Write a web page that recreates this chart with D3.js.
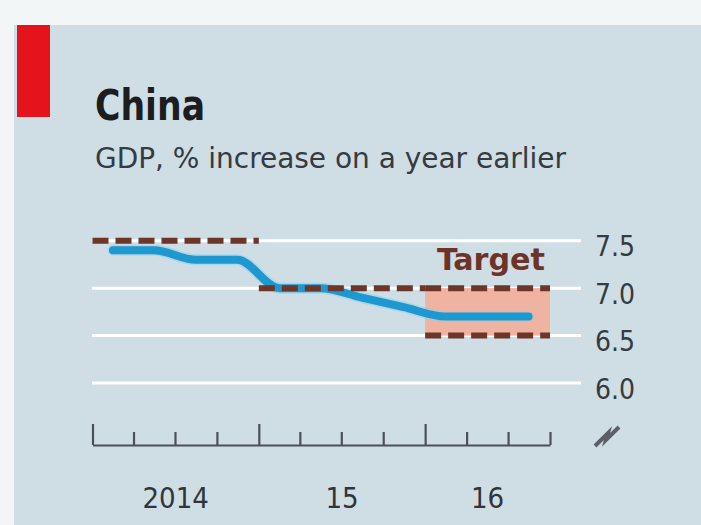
<!DOCTYPE html>
<html>
<head>
<meta charset="utf-8">
<script src="https://cdn.jsdelivr.net/npm/d3@7"></script>
<style>
  html, body { margin: 0; padding: 0; background: #f3f6f7; }
  svg { display: block; }
  text { font-family: "DejaVu Sans Condensed", "Liberation Sans Narrow", "DejaVu Sans", sans-serif; font-stretch: condensed; }
</style>
</head>
<body>
<svg id="chart" width="701" height="525"></svg>
<script>
// China real GDP growth, % on a year earlier, quarterly (plotted at mid-quarter)
const quarters = ["2014-02-15", "2014-05-16", "2014-08-15", "2014-11-15",
                  "2015-02-15", "2015-05-16", "2015-08-15", "2015-11-15",
                  "2016-02-15", "2016-05-16", "2016-08-15"];
const gdpGrowth = [7.4, 7.4, 7.3, 7.3, 7.0, 7.0, 6.9, 6.8, 6.7, 6.7, 6.7];

// Official growth targets by year
const targetStart = ["2014-01-01", "2015-01-01", "2016-01-01"];
const targetEnd   = ["2015-01-01", "2016-01-01", "2016-10-01"];
const targetLow   = [7.5, 7.0, 6.5];
const targetHigh  = [7.5, 7.0, 7.0];

// Axis ticks and labels
const yTicks = [6.0, 6.5, 7.0, 7.5];
const quarterTicks = ["2014-01-01", "2014-04-01", "2014-07-01", "2014-10-01",
                      "2015-01-01", "2015-04-01", "2015-07-01", "2015-10-01",
                      "2016-01-01", "2016-04-01", "2016-07-01", "2016-10-01"];
const yearLabels = ["2014", "15", "16"];
const yearStart  = ["2014-01-01", "2015-01-01", "2016-01-01"];
const yearEnd    = ["2015-01-01", "2016-01-01", "2016-10-01"];

const parse = d3.utcParse("%Y-%m-%d");
const svg = d3.select("#chart");

// Panel background and red tag
svg.append("rect").attr("x", 14).attr("y", 25).attr("width", 701 - 14).attr("height", 500)
  .attr("fill", "#cfdde5");
svg.append("rect").attr("x", 17).attr("y", 25).attr("width", 33).attr("height", 92)
  .attr("fill", "#e5141c");

// Titles
svg.append("text").attr("x", 95).attr("y", 120)
  .attr("font-size", 43).attr("font-weight", "bold").attr("fill", "#1b1d1f")
  .attr("textLength", 110).attr("lengthAdjust", "spacingAndGlyphs")
  .text("China");
svg.append("text").attr("x", 95).attr("y", 168)
  .attr("font-size", 28).attr("fill", "#353b40")
  .attr("textLength", 471).attr("lengthAdjust", "spacingAndGlyphs")
  .text("GDP, % increase on a year earlier");

// Scales
const x = d3.scaleUtc()
  .domain([parse("2014-01-01"), parse("2016-10-01")])
  .range([92.5, 550]);
const y = d3.scaleLinear().domain([6.0, 7.5]).range([383, 240.7]);

// Horizontal gridlines
svg.append("g").selectAll("line").data(yTicks).join("line")
  .attr("x1", 92).attr("x2", 581)
  .attr("y1", d => y(d)).attr("y2", d => y(d))
  .attr("stroke", "#ffffff").attr("stroke-width", 3);

// Y tick labels on the right
svg.append("g").selectAll("text").data(yTicks).join("text")
  .attr("x", 595).attr("y", d => y(d) + 15.5)
  .attr("font-size", 28).attr("fill", "#363b40")
  .text(d => d3.format(".1f")(d));

// Shaded target range
const targets = targetStart.map((s, i) => ({
  start: parse(s), end: parse(targetEnd[i]), low: targetLow[i], high: targetHigh[i]
}));
svg.append("g").selectAll("rect").data(targets.filter(t => t.high > t.low)).join("rect")
  .attr("x", d => x(d.start)).attr("width", d => x(d.end) - x(d.start))
  .attr("y", d => y(d.high)).attr("height", d => y(d.low) - y(d.high))
  .attr("fill", "#efb3a2");

// GDP line
const gdp = quarters.map((q, i) => ({ date: parse(q), value: gdpGrowth[i] }));
const line = d3.line().x(d => x(d.date)).y(d => y(d.value)).curve(d3.curveMonotoneX);
svg.append("path").datum(gdp).attr("d", line)
  .attr("fill", "none").attr("stroke", "#86d3ef").attr("stroke-width", 11)
  .attr("stroke-opacity", 0.5).attr("stroke-linecap", "round").attr("stroke-linejoin", "round");
svg.append("path").datum(gdp).attr("d", line)
  .attr("fill", "none").attr("stroke", "#1f98cf").attr("stroke-width", 8)
  .attr("stroke-linecap", "round").attr("stroke-linejoin", "round");

// Target dashed lines (top and bottom of each target band)
const targetLines = [];
targets.forEach(t => {
  targetLines.push({ start: t.start, end: t.end, value: t.high });
  if (t.low !== t.high) targetLines.push({ start: t.start, end: t.end, value: t.low });
});
svg.append("g").selectAll("line").data(targetLines).join("line")
  .attr("x1", d => x(d.start)).attr("x2", d => x(d.end))
  .attr("y1", d => y(d.value)).attr("y2", d => y(d.value))
  .attr("stroke", "#6c3629").attr("stroke-width", 6)
  .attr("stroke-dasharray", "16,7");

svg.append("text").attr("x", 545).attr("y", 270)
  .attr("text-anchor", "end").attr("font-size", 31).attr("font-weight", "bold")
  .attr("fill", "#6e3327")
  .attr("textLength", 108).attr("lengthAdjust", "spacingAndGlyphs")
  .text("Target");

// X axis with quarter ticks, taller at year boundaries
const tickDates = quarterTicks.map(parse);
const axis = d3.axisTop(x).tickValues(tickDates).tickSize(13).tickSizeOuter(0).tickFormat("");
const gx = svg.append("g").attr("transform", "translate(0,445)").call(axis);
gx.select(".domain").attr("stroke", "#4b5157").attr("stroke-width", 2.2);
gx.selectAll(".tick line").attr("stroke", "#4b5157").attr("stroke-width", 2.2)
  .attr("y2", d => (d.getUTCMonth() === 0 ? -21 : -13));

// Year labels centred on each year's span
svg.append("g").selectAll("text").data(yearLabels).join("text")
  .attr("x", (d, i) => (x(parse(yearStart[i])) + x(parse(yearEnd[i]))) / 2)
  .attr("y", 508).attr("text-anchor", "middle")
  .attr("font-size", 29).attr("fill", "#30353a")
  .text(d => d);

// Axis break mark
svg.append("path").attr("d", "M595,446 L608,433 L606,440 L619,427")
  .attr("fill", "none").attr("stroke", "#5a6066").attr("stroke-width", 4)
  .attr("stroke-linejoin", "miter");
</script>
</body>
</html>
